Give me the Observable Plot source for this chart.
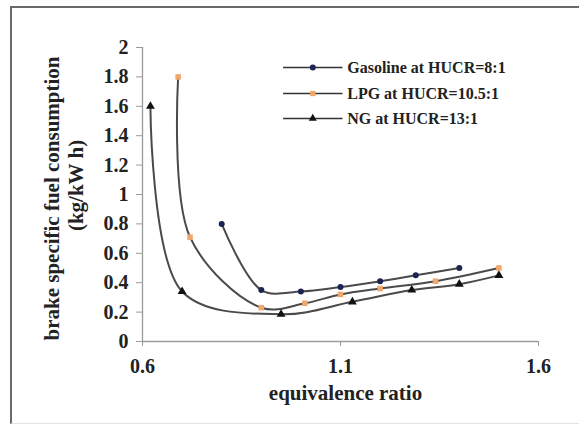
<!DOCTYPE html>
<html>
<head>
<meta charset="utf-8">
<script src="https://cdn.jsdelivr.net/npm/d3@7"></script>
<script src="https://cdn.jsdelivr.net/npm/@observablehq/plot@0.6"></script>
<style>
  html, body { margin: 0; padding: 0; background: #fff; }
  #wrap { position: relative; width: 579px; height: 428px; overflow: hidden; }
  #border { position: absolute; left: 10px; top: 6px; width: 600px; height: 415px;
            border-left: 2px solid #6a6a6a; border-top: 2px solid #6a6a6a; border-bottom: 1px solid #e4e4e4; }
  #wrap svg { position: absolute; left: 0; top: 0; }
</style>
</head>
<body>
<div id="wrap"><div id="border"></div></div>
<script>
// ---- data ----
const gasolineX = [0.8, 0.9, 1.0, 1.1, 1.2, 1.29, 1.4];
const gasolineY = [0.8, 0.35, 0.34, 0.37, 0.41, 0.45, 0.5];
const lpgX = [0.69, 0.72, 0.9, 1.01, 1.1, 1.2, 1.34, 1.5];
const lpgY = [1.8, 0.71, 0.23, 0.26, 0.32, 0.36, 0.41, 0.5];
const ngX = [0.62, 0.7, 0.95, 1.13, 1.28, 1.4, 1.5];
const ngY = [1.6, 0.34, 0.185, 0.27, 0.35, 0.39, 0.45];
const seriesNames = ["Gasoline at HUCR=8:1", "LPG at HUCR=10.5:1", "NG at HUCR=13:1"];
const xTicks = [0.6, 1.1, 1.6];
const yTicks = [0, 0.2, 0.4, 0.6, 0.8, 1, 1.2, 1.4, 1.6, 1.8, 2];
const yTickLabels = ["0", "0.2", "0.4", "0.6", "0.8", "1", "1.2", "1.4", "1.6", "1.8", "2"];
const xLabel = "equivalence ratio";
const yLabel1 = "brake specific fuel consumption";
const yLabel2 = "(kg/kW h)";

// ---- build table ----
const toRows = (xs, ys, s) => xs.map((x, i) => ({x, y: ys[i], s}));
const data = [
  ...toRows(gasolineX, gasolineY, seriesNames[0]),
  ...toRows(lpgX, lpgY, seriesNames[1]),
  ...toRows(ngX, ngY, seriesNames[2])
];
const markerFill = {[seriesNames[0]]: "#1c2450", [seriesNames[1]]: "#f2a76a", [seriesNames[2]]: "#111111"};
const markerSym = {[seriesNames[0]]: "circle", [seriesNames[1]]: "square", [seriesNames[2]]: "triangle"};
const markerR = {[seriesNames[0]]: 3.3, [seriesNames[1]]: 3.6, [seriesNames[2]]: 4};

// legend placement in data space
const legY = [1.864, 1.687, 1.517];
const legendRows = seriesNames.map((s, i) => ({s, y: legY[i], x0: 0.955, x1: 1.105, xm: 1.03, xt: 1.117}));

const font = "'Liberation Serif', 'Times New Roman', serif";
const chart = Plot.plot({
  width: 579,
  height: 428,
  marginLeft: 142,
  marginRight: 41,
  marginTop: 47,
  marginBottom: 87,
  x: {domain: [0.6, 1.6]},
  y: {domain: [0, 2]},
  style: {fontFamily: font, fontWeight: "bold", background: "transparent", color: "#222"},
  marks: [
    Plot.ruleY([0], {stroke: "#9a9a9a", strokeWidth: 1.3}),
    Plot.ruleX([0.6], {stroke: "#9a9a9a", strokeWidth: 1.3}),
    Plot.axisY({ticks: yTicks, tickFormat: (d, i) => yTickLabels[i], tickSize: 6, tickPadding: 8,
                fontSize: 20, label: null, stroke: "#9a9a9a", fill: "#222"}),
    Plot.axisX({ticks: xTicks, tickFormat: d => d.toFixed(1), tickSize: 5, tickPadding: 12,
                fontSize: 20, label: null, stroke: "#9a9a9a", fill: "#222"}),
    Plot.line(data, {x: "x", y: "y", z: "s", stroke: "#4a4a4a", strokeWidth: 2, curve: "catmull-rom"}),
    Plot.dot(data, {x: "x", y: "y", fill: d => markerFill[d.s], symbol: d => markerSym[d.s],
                    r: d => markerR[d.s], stroke: "none"}),
    // legend
    Plot.link(legendRows, {x1: "x0", x2: "x1", y1: "y", y2: "y", stroke: "#333", strokeWidth: 1.6}),
    Plot.dot(legendRows, {x: "xm", y: "y", fill: d => markerFill[d.s], symbol: d => markerSym[d.s], r: 3}),
    Plot.text(legendRows, {x: "xt", y: "y", text: "s", textAnchor: "start", fontSize: 16, fontWeight: "bold", fill: "#222"}),
    // axis titles
    Plot.text([xLabel], {frameAnchor: "bottom", textAnchor: "middle", dx: 5, dy: 52, lineAnchor: "middle", fontSize: 21, fontWeight: "bold", fill: "#222"}),
    Plot.text([yLabel1], {frameAnchor: "left", textAnchor: "middle", rotate: -90, dx: -90, dy: 4, lineAnchor: "middle", fontSize: 21, fontWeight: "bold", fill: "#222"}),
    Plot.text([yLabel2], {frameAnchor: "left", textAnchor: "middle", rotate: -90, dx: -66, dy: -9, lineAnchor: "middle", fontSize: 21, fontWeight: "bold", fill: "#222"})
  ]
});
document.getElementById("wrap").appendChild(chart);
</script>
</body>
</html>
